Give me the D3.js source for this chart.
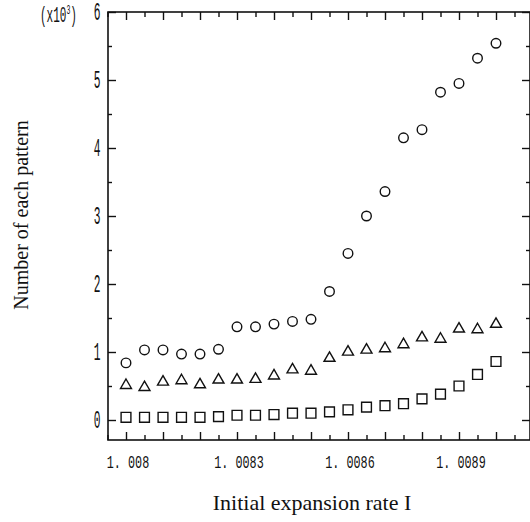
<!DOCTYPE html>
<html>
<head>
<meta charset="utf-8">
<script src="https://cdn.jsdelivr.net/npm/d3@7"></script>
<style>
  body { margin: 0; background: #fff; }
  .tick-label { font-family: 'Liberation Mono', 'DejaVu Sans Mono', monospace; fill: #111; }
  .title { font-family: 'Liberation Serif', 'DejaVu Serif', serif; fill: #111; }
</style>
</head>
<body>
<div id="wrapper"></div>
<script>
// expansion rate I (x) and counts in thousands for each pattern
const rates = [1.008, 1.00805, 1.0081, 1.00815, 1.0082, 1.00825, 1.0083, 1.00835, 1.0084, 1.00845,
  1.0085, 1.00855, 1.0086, 1.00865, 1.0087, 1.00875, 1.0088, 1.00885, 1.0089, 1.00895, 1.009];
const circleCounts = [0.84, 1.03, 1.03, 0.97, 0.97, 1.04, 1.37, 1.37, 1.41, 1.45,
  1.48, 1.89, 2.45, 3.0, 3.36, 4.15, 4.27, 4.82, 4.95, 5.32, 5.54];
const triangleCounts = [0.51, 0.48, 0.56, 0.58, 0.52, 0.59, 0.59, 0.6, 0.65, 0.74,
  0.72, 0.91, 1.0, 1.03, 1.05, 1.11, 1.21, 1.19, 1.34, 1.33, 1.41];
const squareCounts = [0.04, 0.04, 0.04, 0.04, 0.04, 0.05, 0.07, 0.07, 0.08, 0.1,
  0.1, 0.12, 0.15, 0.19, 0.21, 0.24, 0.31, 0.38, 0.5, 0.67, 0.86];
const xLabelTicks = [1.008, 1.0083, 1.0086, 1.0089];
const yTicks = [0, 1, 2, 3, 4, 5, 6];

const width = 530;
const height = 522;
const plot = { left: 108, right: 530, top: 12, bottom: 440 };

const svg = d3.select('#wrapper').append('svg')
  .attr('width', width)
  .attr('height', height);

const x = d3.scaleLinear()
  .domain([1.00795, 1.00909])
  .range([plot.left - 0.5, plot.left - 0.5 + 1.14 * 370]);

const y = d3.scaleLinear()
  .domain([0, 6])
  .range([420, 12]);

// minor / major tick values
const xMinor = d3.range(0, 23).map(i => 1.00795 + i * 0.00005).filter(v => v < 1.00909);
const xLong = xMinor.filter((v, i) => i % 2 === 1);
const xShort = xMinor.filter((v, i) => i % 2 === 0);
const yMinor = d3.range(0, 6).map(v => v + 0.5);

const axisColor = '#111';
const axisStyle = (g) => {
  g.select('.domain').remove();
  g.selectAll('line').attr('stroke', axisColor).attr('stroke-width', 1.4);
  g.selectAll('text').remove();
};

// frame
svg.append('rect')
  .attr('x', plot.left)
  .attr('y', plot.top)
  .attr('width', plot.right - plot.left)
  .attr('height', plot.bottom - plot.top)
  .attr('fill', 'none')
  .attr('stroke', axisColor)
  .attr('stroke-width', 1.6);

// bottom / top ticks (inside)
[[xLong, 8], [xShort, 5]].forEach(([vals, len]) => {
  svg.append('g').attr('transform', `translate(0,${plot.bottom})`)
    .call(d3.axisBottom(x).tickValues(vals).tickSize(-len)).call(axisStyle);
  svg.append('g').attr('transform', `translate(0,${plot.top})`)
    .call(d3.axisTop(x).tickValues(vals).tickSize(-len)).call(axisStyle);
});

// left / right ticks (inside)
[[yTicks, 8], [yMinor, 4]].forEach(([vals, len]) => {
  svg.append('g').attr('transform', `translate(${plot.left},0)`)
    .call(d3.axisLeft(y).tickValues(vals).tickSize(-len)).call(axisStyle);
  svg.append('g').attr('transform', `translate(${plot.right},0)`)
    .call(d3.axisRight(y).tickValues(vals).tickSize(-len)).call(axisStyle);
});

// x tick labels
svg.append('g').selectAll('text')
  .data(xLabelTicks)
  .join('text')
  .attr('class', 'tick-label')
  .attr('transform', d => `translate(${x(d) + 2},468) scale(0.62,1)`)
  .attr('text-anchor', 'middle')
  .style('font-size', '19px')
  .text(d => d3.format('.4f')(d).replace(/0+$/, '').replace('.', '. '));

// y tick labels
svg.append('g').selectAll('text')
  .data(yTicks)
  .join('text')
  .attr('class', 'tick-label')
  .attr('transform', d => `translate(97,${y(d) + 8}) scale(0.45,1)`)
  .attr('text-anchor', 'middle')
  .style('font-size', '25px')
  .text(d => d);

// (x10^3)
const mult = svg.append('text')
  .attr('class', 'tick-label')
  .attr('transform', 'translate(40,22) scale(0.5,1)')
  .style('font-size', '22px');
mult.append('tspan').text('(x10');
mult.append('tspan').attr('dy', -8).style('font-size', '13px').text('3');
mult.append('tspan').attr('dy', 8).text(')');

// axis titles
svg.append('text')
  .attr('class', 'title')
  .attr('transform', 'translate(28,215) rotate(-90)')
  .attr('text-anchor', 'middle')
  .style('font-size', '20px')
  .text('Number of each pattern');

svg.append('text')
  .attr('class', 'title')
  .attr('x', 312)
  .attr('y', 510)
  .attr('text-anchor', 'middle')
  .style('font-size', '22px')
  .text('Initial expansion rate I');

// markers
const series = [
  { values: circleCounts, symbol: d3.symbolCircle, size: 72 },
  { values: triangleCounts, symbol: d3.symbolTriangle, size: 52 },
  { values: squareCounts, symbol: d3.symbolSquare, size: 96 },
];

series.forEach(s => {
  svg.append('g').selectAll('path')
    .data(rates.map((r, i) => ({ r, v: s.values[i] })))
    .join('path')
    .attr('d', d3.symbol(s.symbol, s.size))
    .attr('transform', d => `translate(${x(d.r)},${y(d.v)})`)
    .attr('fill', 'none')
    .attr('stroke', axisColor)
    .attr('stroke-width', 1.4);
});
</script>
</body>
</html>
